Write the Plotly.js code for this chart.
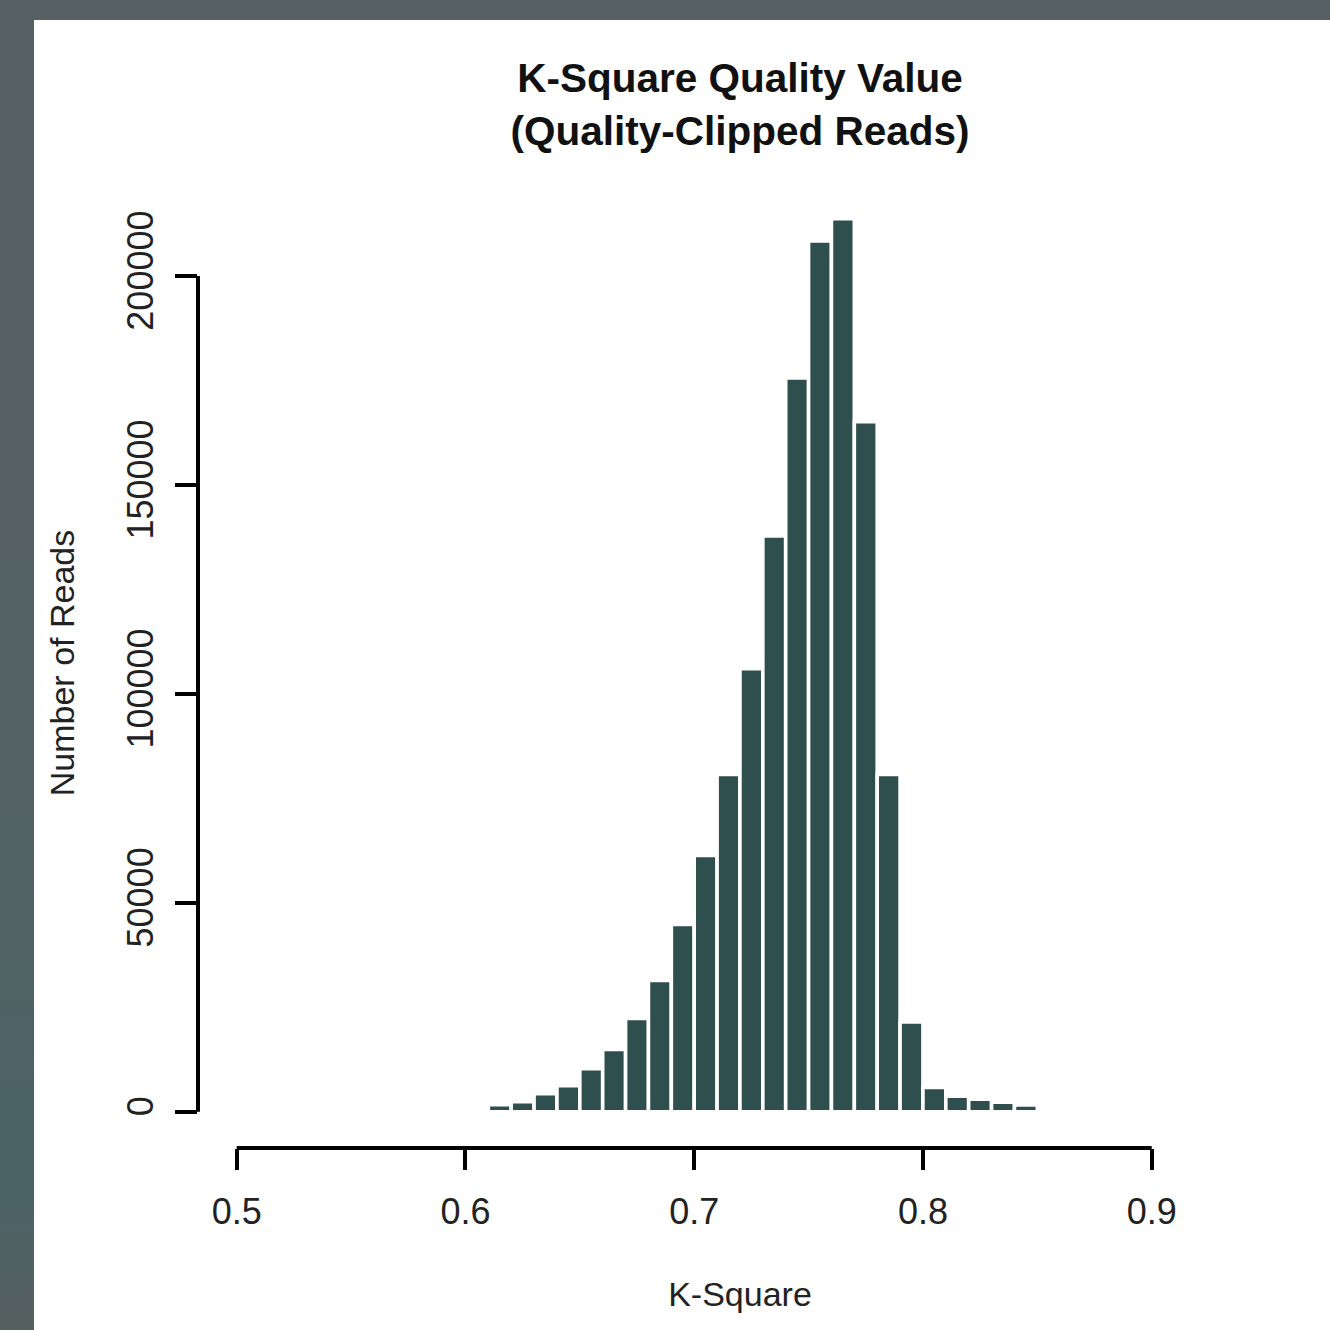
<!DOCTYPE html>
<html>
<head>
<meta charset="utf-8">
<script src="https://cdn.plot.ly/plotly-3.0.1.min.js"></script>
<style>
  html, body { margin: 0; padding: 0; width: 1330px; height: 1330px; overflow: hidden;
    background: linear-gradient(to bottom, #576163 0%, #546263 60%, #4b6467 88%, #575f60 100%); }
  #chart { position: absolute; left: 34px; top: 20px; width: 1296px; height: 1310px; background: #ffffff; }
</style>
</head>
<body>
<div id="chart"></div>
<script>
// Histogram bins (left edges) and counts
const binStarts = [0.61, 0.62, 0.63, 0.64, 0.65, 0.66, 0.67, 0.68, 0.69, 0.70, 0.71, 0.72,
                   0.73, 0.74, 0.75, 0.76, 0.77, 0.78, 0.79, 0.80, 0.81, 0.82, 0.83, 0.84];
const readCounts = [1700, 2400, 4300, 6200, 10300, 14900, 22300, 31400, 44800, 61300, 80700, 106000,
                    137800, 175600, 208400, 213700, 165100, 80700, 21500, 5800, 3700, 3000, 2250, 1600];
const binWidth = 0.01;
const xTicks = [0.5, 0.6, 0.7, 0.8, 0.9];
const xTickText = ["0.5", "0.6", "0.7", "0.8", "0.9"];
const yTicks = [0, 50000, 100000, 150000, 200000];
const yTickText = ["0", "50000", "100000", "150000", "200000"];

const trace = {
  type: 'bar',
  x: binStarts,
  y: readCounts,
  width: binStarts.map(() => binWidth),
  offset: 0,
  marker: { color: '#2F4F4F', line: { color: '#ffffff', width: 3.6 } },
  hoverinfo: 'x+y'
};

const font = 'Liberation Sans, Arial, Helvetica, sans-serif';

const layout = {
  width: 1296,
  height: 1310,
  margin: { l: 164, r: 48, t: 158, b: 182 },
  paper_bgcolor: '#ffffff',
  plot_bgcolor: '#ffffff',
  showlegend: false,
  bargap: 0,
  title: {
    text: '<b>K-Square Quality Value</b><br><b>(Quality-Clipped Reads)</b>',
    font: { family: font, size: 40.5, color: '#111111' },
    xref: 'container', x: (740 - 34) / 1296, xanchor: 'center',
    yref: 'container', y: 1 - (92 - 20) / 1310, yanchor: 'top'
  },
  xaxis: {
    range: [0.48308, 0.95696],
    showgrid: false, zeroline: false, showline: false,
    tickmode: 'array', tickvals: xTicks, ticktext: xTickText,
    ticks: 'outside', ticklen: 21, tickwidth: 4, tickcolor: '#000000',
    ticklabelstandoff: 11,
    tickfont: { family: font, size: 36, color: '#222222' },
    title: { text: 'K-Square', font: { family: font, size: 34, color: '#222222' }, standoff: 50 },
    fixedrange: true
  },
  yaxis: {
    range: [-8684, 223445],
    showgrid: false, zeroline: false, showline: false,
    tickmode: 'array', tickvals: yTicks, ticktext: yTickText,
    ticks: 'outside', ticklen: 22, tickwidth: 4, tickcolor: '#000000',
    tickangle: -90,
    ticklabelstandoff: 8,
    tickfont: { family: font, size: 36, color: '#222222' },
    title: { text: 'Number of Reads', font: { family: font, size: 34, color: '#222222' }, standoff: 34 },
    fixedrange: true
  },
  shapes: [
    { type: 'line', xref: 'x', yref: 'paper', x0: xTicks[0], x1: xTicks[xTicks.length - 1], y0: 0, y1: 0,
      line: { color: '#000000', width: 4 } },
    { type: 'line', xref: 'paper', yref: 'y', x0: 0, x1: 0, y0: yTicks[0], y1: yTicks[yTicks.length - 1],
      line: { color: '#000000', width: 4 } }
  ]
};

Plotly.newPlot('chart', [trace], layout, { displayModeBar: false, staticPlot: true });
</script>
</body>
</html>
